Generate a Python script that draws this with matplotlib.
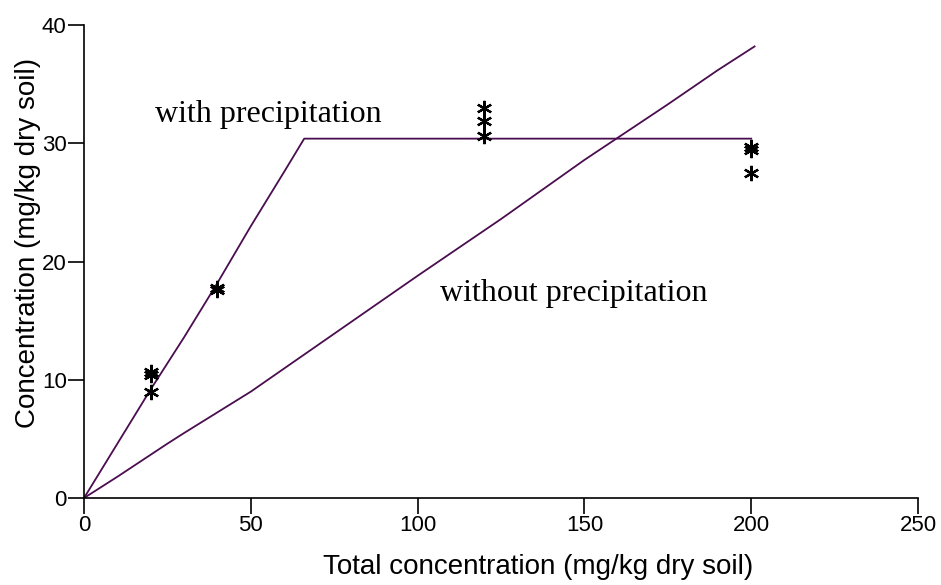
import numpy as np
import matplotlib.pyplot as plt

# model curves
with_x = [0, 5, 10, 20, 30, 40, 50, 60, 66, 120, 200]
with_y = [0, 2.3, 4.6, 9.2, 13.6, 18.2, 23.0, 27.6, 30.4, 30.4, 30.4]
without_x = [0, 10, 25, 30, 50, 75, 100, 125, 150, 175, 190, 201]
without_y = [0, 1.8, 4.6, 5.5, 9.0, 13.9, 18.8, 23.6, 28.6, 33.3, 36.2, 38.2]

# measured data
meas_x = [20, 20, 20, 40, 40, 120, 120, 120, 200, 200, 200]
meas_y = [10.7, 10.4, 9.0, 17.8, 17.6, 33.0, 31.9, 30.6, 29.7, 29.4, 27.5]

fig = plt.figure(figsize=(9.41, 5.85), dpi=100)
ax = fig.add_axes([0.0893, 0.1487, 0.8863, 0.8083])

col = '#4a0d4f'
ax.plot(with_x, with_y, color=col, lw=1.3)
ax.plot(without_x, without_y, color=col, lw=1.3)
ax.plot(meas_x, meas_y, ls='none', marker=(6, 2, 0), ms=11, mew=1.6, color='black')

ax.text(21.2, 31.8, 'with precipitation', family='Liberation Serif', fontsize=23)
ax.text(106.7, 16.7, 'without precipitation', family='Liberation Serif', fontsize=23)

ax.set_xlim(0, 250)
ax.set_ylim(0, 40)
ax.set_xticks([0, 50, 100, 150, 200, 250])
ax.set_yticks([0, 10, 20, 30, 40])
for s in ['top', 'right']:
    ax.spines[s].set_visible(False)
for s in ['left', 'bottom']:
    ax.spines[s].set_linewidth(1.2)
ax.tick_params(direction='out', length=11.5, width=1.2, labelsize=16, pad=1)
for lab in ax.get_xticklabels() + ax.get_yticklabels():
    lab.set_family('Liberation Sans')

ax.set_xlabel('Total concentration (mg/kg dry soil)', family='Liberation Sans',
              fontsize=20)
ax.set_ylabel('Concentration (mg/kg dry soil)', family='Liberation Sans',
              fontsize=20)
ax.xaxis.set_label_coords(0.545, -0.118)
ax.yaxis.set_label_coords(-0.052, 0.539)

fig.savefig('out.png', dpi=100)
